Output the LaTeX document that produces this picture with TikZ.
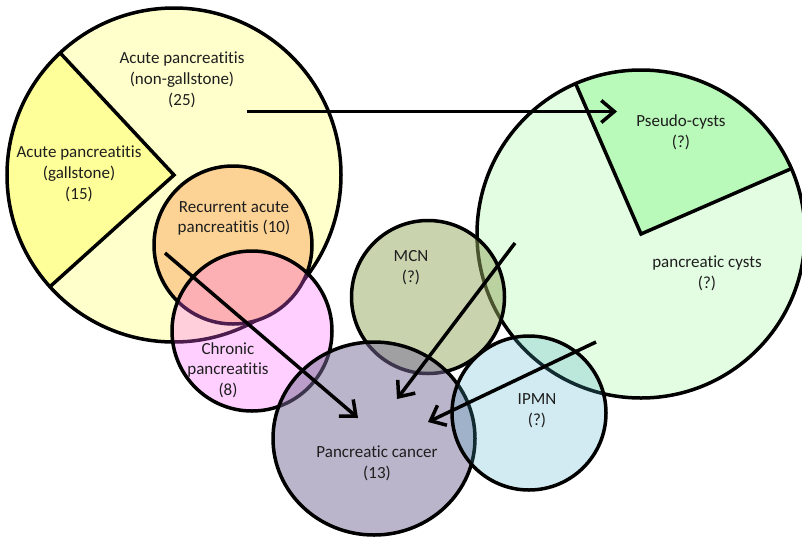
\documentclass[tikz,border=0pt]{standalone}
\usepackage{fontspec}
\setmainfont{Carlito}[Ligatures=NoCommon,Contextuals=NoAlternate]
\usetikzlibrary{arrows.meta}
\definecolor{ylight}{HTML}{FFFFCC}
\definecolor{ydark}{HTML}{FFFF99}
\definecolor{orng}{HTML}{FCD394}
\definecolor{pinkb}{HTML}{FF62FF}
\definecolor{glight}{HTML}{E3FDE3}
\definecolor{gdark}{HTML}{B9F9B9}
\definecolor{mcnb}{HTML}{93A95F}
\definecolor{cancb}{HTML}{786B97}
\definecolor{ipmnb}{HTML}{4BACC6}
\definecolor{txt}{HTML}{1E1E1E}
\begin{document}
\begin{tikzpicture}[x=1pt,y=-1pt,
  bord/.style={draw=black,line width=3.5pt},
  lbl/.style={align=center,text=txt,inner sep=0pt,font=\fontsize{17}{20.7}\selectfont},
  arr/.style={line width=3.5pt,-{Straight Barb[length=13pt,width=22pt]}}]
\useasboundingbox (0,0) rectangle (802,536);
% centres
\coordinate (acuteC) at (174,175);
\coordinate (recC) at (233,245);
\coordinate (chrC) at (252,331);
\coordinate (cystC) at (641,234);
\coordinate (mcnC) at (428,297);
\coordinate (cancC) at (374,438.5);
\coordinate (ipmnC) at (529,413);
% acute pancreatitis
\fill[ylight] (acuteC) circle[radius=167pt];
\fill[ydark] (acuteC) -- ++(133:167pt) arc[start angle=133,end angle=222,radius=167pt] -- cycle;
\draw[bord] (acuteC) circle[radius=167pt];
\draw[bord] (acuteC) ++(133:167pt) -- (acuteC) -- ++(222:167pt);
% recurrent
\draw[bord,fill=orng] (recC) circle[radius=79pt];
% chronic
\draw[bord,fill=pinkb,fill opacity=0.3] (chrC) circle[radius=80pt];
% cysts
\fill[glight] (cystC) circle[radius=164pt];
\fill[gdark] (cystC) -- ++(23.5:164pt) arc[start angle=23.5,end angle=113.5,radius=164pt] -- cycle;
\draw[bord] (cystC) circle[radius=164pt];
\draw[bord] (cystC) ++(23.5:164pt) -- (cystC) -- ++(113.5:164pt);
% MCN
\draw[bord,fill=mcnb,fill opacity=0.5] (mcnC) circle[radius=76.5pt];
% cancer
\draw[bord,fill=cancb,fill opacity=0.5] (cancC) ellipse[x radius=101pt,y radius=96.5pt];
% IPMN
\draw[bord,fill=ipmnb,fill opacity=0.25] (ipmnC) circle[radius=77pt];
% labels
\node[lbl] (tNon) at (182,80) {Acute pancreatitis\\(non-gallstone)\\(25)};
\node[lbl] (tGall) at (79,174) {Acute pancreatitis\\(gallstone)\\(15)};
\node[lbl] (tRec) at (234,218.5) {Recurrent acute\\pancreatitis (10)};
\node[lbl] (tChr) at (228,370) {Chronic\\pancreatitis\\(8)};
\node[lbl] (tMcn) at (411,267.5) {MCN\\(?)};
\node[lbl] (tCanc) at (377,463.5) {Pancreatic cancer\\(13)};
\node[lbl] (tIpmn) at (537,410.5) {IPMN\\(?)};
\node[lbl] (tPseudo) at (681,132.5) {Pseudo-cysts\\(?)};
\node[lbl] (tCyst) at (707,273.5) {pancreatic cysts\\(?)};
% arrows
\coordinate (a1s) at (247,111.5); \coordinate (a1e) at (617,111.5);
\coordinate (a2s) at (165,253);   \coordinate (a2e) at (358,418);
\coordinate (a3s) at (515,243);   \coordinate (a3e) at (397,399);
\coordinate (a4s) at (596,342);   \coordinate (a4e) at (428,422);
\draw[arr] (a1s) -- (a1e);
\draw[arr] (a2s) -- (a2e);
\draw[arr] (a3s) -- (a3e);
\draw[arr] (a4s) -- (a4e);
\end{tikzpicture}
\end{document}
